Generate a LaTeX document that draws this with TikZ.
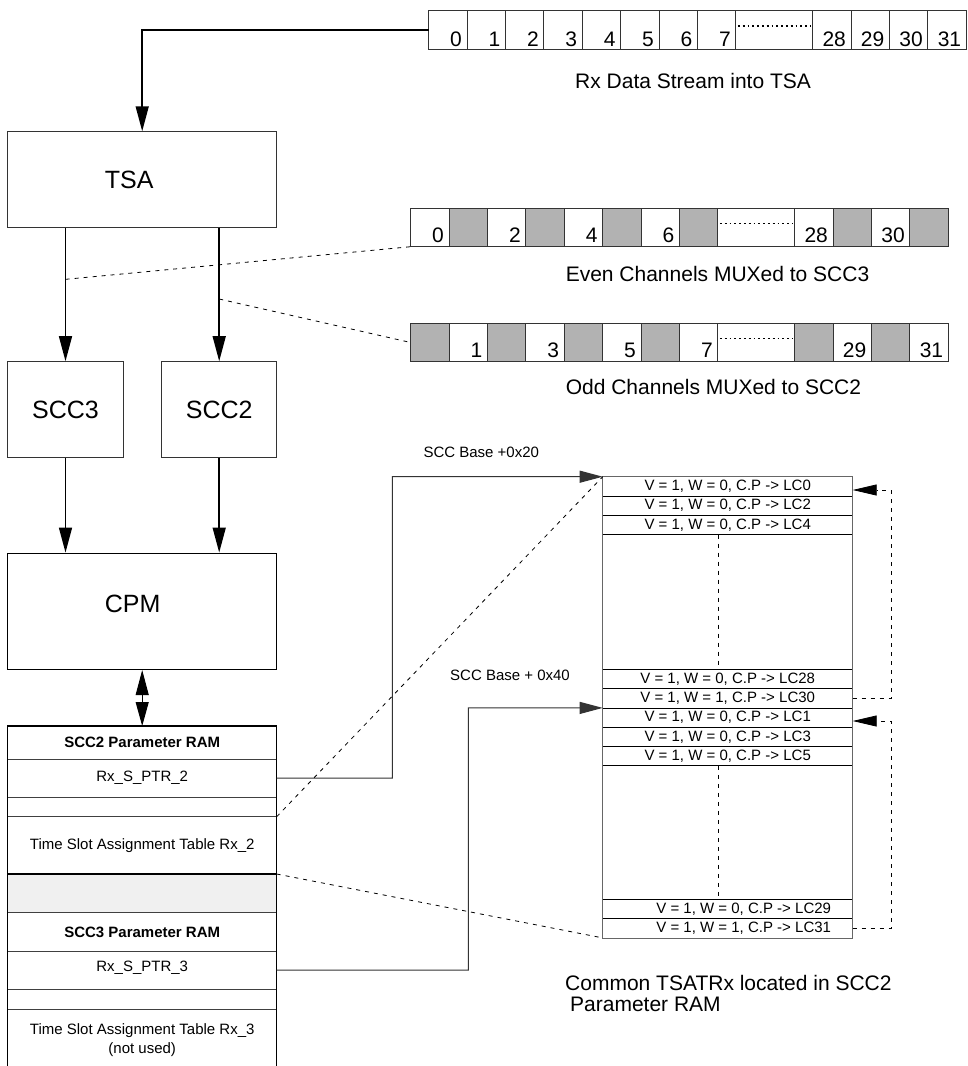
\documentclass[tikz,border=0pt]{standalone}
\usepackage{fontspec}
\setmainfont{Liberation Sans}
\usetikzlibrary{arrows.meta,positioning}

\begin{document}
\begin{tikzpicture}[
	x=1pt,y=-1pt,
	box/.style={draw=black!80,line width=1pt,inner sep=0pt,font=\fontsize{25}{30}\selectfont},
	cell/.style={draw=black!80,line width=1pt,minimum width=38.4pt,minimum height=38.4pt,inner sep=0pt,outer sep=0pt},
	hole/.style={cell,fill=black!30},
	num/.style={anchor=base east,inner sep=0pt,font=\fontsize{21}{21}\selectfont},
	caption/.style={anchor=base west,inner sep=0pt,font=\fontsize{21}{21}\selectfont},
	small/.style={anchor=base west,inner sep=0pt,font=\fontsize{15}{15}\selectfont},
	ramrow/.style={draw=black!75,line width=0.8pt,minimum width=269pt,inner sep=0pt,outer sep=0pt,font=\fontsize{15}{19}\selectfont,align=center},
	ramhead/.style={ramrow,font=\bfseries\fontsize{15}{19}\selectfont},
	tsrow/.style={draw=black,line width=0.8pt,minimum width=250pt,minimum height=19.3pt,inner sep=0pt,outer sep=0pt,font=\fontsize{15}{15}\selectfont},
	arr/.style={line width=1.5pt,-{Triangle[length=25pt,width=13pt]}},
	link/.style={draw=black!80,line width=1pt,-{Triangle[length=23pt,width=12pt]}},
	dashline/.style={line width=0.8pt,dash pattern=on 4pt off 5pt},
	dotline/.style={line width=1.8pt,dash pattern=on 1.8pt off 3pt}]
\useasboundingbox (0,0) rectangle (967,1066);

% time slots
\foreach \i/\t in {0/0,1/1,2/2,3/3,4/4,5/5,6/6,7/7,10/28,11/29,12/30,13/31} {
	\node[cell] (rx\i) at (428.7+19.2+\i*38.4,30) {};
	\node[num] (rxn\i) at ([xshift=-5pt,yshift=3pt]rx\i.south east) {\t};
}
\node[cell,minimum width=76.8pt] (rxd) at (428.7+8*38.4+38.4,30) {};
\draw[dotline] ([xshift=2pt,yshift=4pt]rxd.west) -- ([xshift=-2pt,yshift=4pt]rxd.east);
\node[caption] (rxlbl) at (575,88) {Rx Data Stream into TSA};

\foreach \i/\t in {0/0,2/2,4/4,6/6,10/28,12/30} {
	\node[cell] (ev\i) at (410.7+19.2+\i*38.4,227.5) {};
	\node[num] (evn\i) at ([xshift=-5pt,yshift=4pt]ev\i.south east) {\t};
}
\foreach \i in {1,3,5,7,11,13}
	\node[hole] (ev\i) at (410.7+19.2+\i*38.4,227.5) {};
\node[cell,minimum width=76.8pt] (evd) at (410.7+8*38.4+38.4,227.5) {};
\draw[dotline] ([xshift=2pt,yshift=4pt]evd.west) -- ([xshift=-2pt,yshift=4pt]evd.east);
\node[caption] (evlbl) at (565.6,281) {Even Channels MUXed to SCC3};

\foreach \i/\t in {1/1,3/3,5/5,7/7,11/29,13/31} {
	\node[cell] (od\i) at (410.7+19.2+\i*38.4,342.5) {};
	\node[num] (odn\i) at ([xshift=-5pt,yshift=4pt]od\i.south east) {\t};
}
\foreach \i in {0,2,4,6,10,12}
	\node[hole] (od\i) at (410.7+19.2+\i*38.4,342.5) {};
\node[cell,minimum width=76.8pt] (odd) at (410.7+8*38.4+38.4,342.5) {};
\draw[dotline] ([xshift=2pt,yshift=4pt]odd.west) -- ([xshift=-2pt,yshift=4pt]odd.east);
\node[caption] (odlbl) at (565.6,394) {Odd Channels MUXed to SCC2};

% blocks
\node[box,minimum width=269pt,minimum height=95.3pt] (tsa) at (142.2,179.4) {TSA\hspace*{26pt}};
\node[box,minimum width=115.6pt,minimum height=96pt] (scc3) at (65.5,409.7) {SCC3};
\node[box,minimum width=115pt,minimum height=96pt] (scc2) at (219.2,409.7) {SCC2};
\node[box,draw=black,line width=1.5pt,minimum width=269pt,minimum height=116pt] (cpm) at (142.2,611.3) {\raisebox{15pt}{CPM}\hspace*{19pt}};

\draw[arr] (rx0.west) -| (tsa.north);
\draw[arr] (tsa.south -| scc3.north) -- (scc3.north);
\draw[arr] (tsa.south -| scc2.north) -- (scc2.north);
\draw[arr] (scc3.south) -- (scc3.south |- cpm.north);
\draw[arr] (scc2.south) -- (scc2.south |- cpm.north);

\coordinate (evtap) at (65.7,279.3);
\coordinate (odtap) at (219.2,299);
\draw[dashline] (evtap) -- (ev0.south west);
\draw[dashline] (odtap) -- (od0.west);

% parameter RAM
\node[ramhead,minimum height=33pt] (r1) at (142.2,742.5) {SCC2 Parameter RAM};
\node[ramrow,minimum height=38.3pt,below=0pt of r1] (r2) {Rx\_S\_PTR\_2};
\node[ramrow,minimum height=19.4pt,below=0pt of r2] (r3) {};
\node[ramrow,minimum height=57.3pt,below=0pt of r3] (r4) {Time Slot Assignment Table Rx\_2};
\node[ramrow,minimum height=38.7pt,below=0pt of r4,fill=black!6,draw=black,line width=1.5pt] (r5) {};
\node[ramhead,minimum height=38.3pt,below=0pt of r5] (r6) {SCC3 Parameter RAM};
\node[ramrow,minimum height=38.3pt,below=0pt of r6] (r7) {\raisebox{7pt}{Rx\_S\_PTR\_3}};
\node[ramrow,minimum height=19.7pt,below=0pt of r7] (r8) {};
\node[ramrow,minimum height=62pt,below=0pt of r8] (r9) {Time Slot Assignment Table Rx\_3\\(not used)};
\draw[line width=1.5pt] (r9.south west) -- (r1.north west) -- (r1.north east) -- (r9.south east);

\draw[line width=1pt,{Triangle[length=25pt,width=13pt]}-{Triangle[length=24pt,width=13pt]}] (cpm.south) -- (r1.north);

% TSA table
\foreach \k/\y/\w/\sh in {0/486.35/0/0,2/505.65/0/0,4/524.95/0/0,28/678.95/0/0,30/698.25/1/0,1/717.55/0/0,3/736.85/0/0,5/756.15/0/0,29/908.95/0/32,31/928.25/1/32}
	\node[tsrow] (lc\k) at (727.7,\y) {\hspace*{\sh pt}V = 1, W = \w, C.P -> LC\k};
\draw[draw=black!60,line width=0.8pt] (lc0.north west) rectangle (lc31.south east);
\draw[dashline] ([xshift=-9.4pt]lc4.south) -- ([xshift=-9.4pt]lc28.north);
\draw[dashline] ([xshift=-9.4pt]lc5.south) -- ([xshift=-9.4pt]lc29.north);

\coordinate (up2) at (392.3,476.7);
\coordinate (up3) at (468.3,707.9);
\draw[link] (r2.east) -| (up2) -- (lc0.north west);
\draw[link] (r7.east) -| (up3) -- (lc1.north west);
\node[small] (base20) at (423.3,457) {SCC Base +0x20};
\node[small] (base40) at (450,680) {SCC Base + 0x40};

\draw[dashline] (r3.south east) -- (lc0.north west);
\draw[dashline] (r5.north east) -- (lc31.south west);

\coordinate (loop0) at (891,490);
\coordinate (loop1) at (891,721);
\draw[dashline,-{Triangle[length=24pt,width=11pt]}] (lc30.east) -| (loop0) -- (lc0.east |- loop0);
\draw[dashline,-{Triangle[length=24pt,width=11pt]}] (lc31.east) -| (loop1) -- (lc1.east |- loop1);

\node[anchor=north west,inner sep=0pt,align=left,font=\fontsize{21}{21}\selectfont] (common) at (565,975) {Common TSATRx located in SCC2\\\hspace*{5pt}Parameter RAM};
\end{tikzpicture}
\end{document}
